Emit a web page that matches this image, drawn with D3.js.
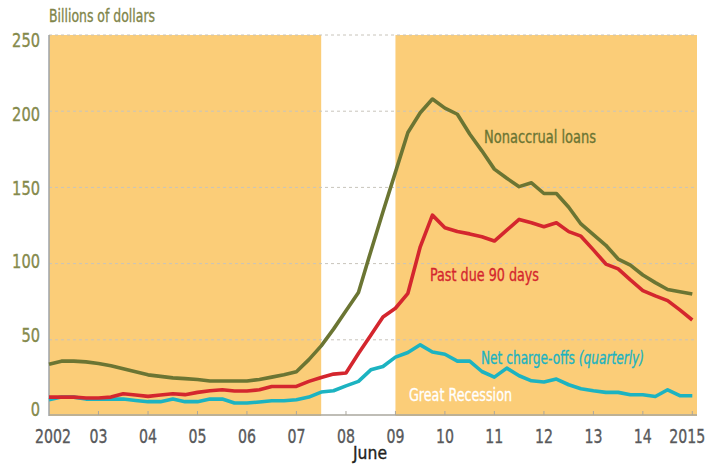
<!DOCTYPE html>
<html>
<head>
<meta charset="utf-8">
<script src="https://cdn.jsdelivr.net/npm/d3@7"></script>
<style>
	body { margin: 0; background: #fff; }
	text { font-family: "DejaVu Sans Condensed", "Liberation Sans", sans-serif; }
</style>
</head>
<body>
<script>
// quarterly series, billions of dollars, June 2002 through June 2015
var nonaccrual = [34, 36, 36, 35.5, 34.5, 33, 31, 29, 27, 26, 25, 24.5, 24, 23, 23, 23, 23, 24, 25.5, 27, 29,
	37, 46, 57, 69, 81, 108, 134, 160, 186, 199, 208, 202, 198, 185, 174, 162, 156, 150.5, 153, 146, 146,
	137, 126, 119, 112, 103, 99, 92.5, 87.5, 83, 81.5, 80];
var pastDue = [12.4, 12.4, 12.4, 11.8, 11.8, 12.4, 14.6, 13.8, 12.9, 13.8, 14.6, 14, 15.5, 16.6, 17.2, 16.4, 16.4,
	17.2, 19.4, 19.4, 19.4, 22.7, 25.3, 27.5, 28.2, 41, 53, 65, 70.7, 80.5, 111, 131.8, 123.5, 121, 119.5,
	117.6, 114.8, 122, 129, 126.8, 124.2, 126.8, 121, 118, 109, 99.7, 96.5, 89.3, 82.3, 78.8, 75.7, 69.6, 63];
var chargeOffs = [10.7, 12.4, 12.4, 11.1, 11.1, 11.1, 11.1, 10.2, 9.4, 9.4, 11.1, 9.4, 9.4, 11.1, 11.1, 8.5, 8.5,
	9.2, 10, 10, 10.7, 12.4, 15.7, 16.6, 19.8, 22.7, 30.3, 32.5, 38.6, 41.7, 46.7, 42, 40.5, 36, 36, 29.2,
	25.5, 31.4, 26.4, 23.1, 22.3, 24.2, 20.5, 17.9, 16.6, 15.5, 15.5, 13.9, 13.9, 12.8, 17.2, 13.3, 13.3];
var yearLabels = ["2002", "03", "04", "05", "06", "07", "08", "09", "10", "11", "12", "13", "14", "2015"];
var yTicks = [0, 50, 100, 150, 200, 250];
// Great Recession, December 2007 to June 2009
var recession = [new Date(2007, 11, 1), new Date(2009, 5, 1)];

window.onload = function(){
	var w = 714, h = 464;

	// one date per quarter, starting June 2002
	var quarters = nonaccrual.map(function(d, i){ return new Date(2002, 5 + 3 * i, 1); });
	// ticks sit on June of each year
	var yearTicks = yearLabels.map(function(d, i){ return new Date(2002 + i, 5, 1); });

	var x = d3.scaleTime()
		.domain([new Date(2002, 5, 1), new Date(2015, 5, 1)])
		.range([49, 692.3]);
	var y = d3.scaleLinear()
		.domain([0, 250])
		.range([416, 35]);
	// tick labels sit a little off their gridlines in the original
	var yLabel = d3.scaleLinear()
		.domain([0, 250])
		.range([409, 40]);

	var plotLeft = x.range()[0], plotRight = 697;

	var svg = d3.select("body")
		.append("svg")
		.attr("width", w)
		.attr("height", h);

	// squeeze text to the condensed look of the original, and thicken it a bit
	function condensed(sel, width){
		return sel.attr("textLength", width)
			.attr("lengthAdjust", "spacingAndGlyphs")
			.style("stroke", sel.style("fill"))
			.style("stroke-width", 0.35);
	}

	// orange background, white gap for the recession
	svg.append("rect")
		.attr("x", plotLeft)
		.attr("y", y(250))
		.attr("width", plotRight - plotLeft)
		.attr("height", y(0) - y(250))
		.style("fill", "#fbcd78");
	svg.append("rect")
		.attr("x", x(recession[0]))
		.attr("y", y(250))
		.attr("width", x(recession[1]) - x(recession[0]))
		.attr("height", y(0) - y(250))
		.style("fill", "#ffffff");

	// dashed gridlines
	svg.selectAll(".grid")
		.data(yTicks.filter(function(d){ return d > 0; }))
		.enter()
		.append("line")
		.attr("class", "grid")
		.attr("x1", plotLeft)
		.attr("x2", plotRight)
		.attr("y1", function(d){ return y(d); })
		.attr("y2", function(d){ return y(d); })
		.style("stroke", "#c8c4bb")
		.style("stroke-width", 1)
		.style("stroke-dasharray", "3,3");

	// axes
	svg.append("line")
		.attr("x1", plotLeft).attr("x2", plotLeft)
		.attr("y1", y(250)).attr("y2", y(0))
		.style("stroke", "#9ea3a8").style("stroke-width", 1.5);
	svg.append("line")
		.attr("x1", plotLeft).attr("x2", plotRight)
		.attr("y1", y(0) - 1).attr("y2", y(0) - 1)
		.style("stroke", "#aaa79e").style("stroke-width", 1.5);
	svg.selectAll(".xtick")
		.data(yearTicks.slice(1))
		.enter()
		.append("line")
		.attr("class", "xtick")
		.attr("x1", function(d){ return x(d); })
		.attr("x2", function(d){ return x(d); })
		.attr("y1", y(0) - 1)
		.attr("y2", y(0) - 5)
		.style("stroke", "#aaa79e")
		.style("stroke-width", 1);

	// y tick labels
	svg.selectAll(".ylabel")
		.data(yTicks)
		.enter()
		.append("text")
		.attr("class", "ylabel")
		.attr("x", 40)
		.attr("y", function(d){ return yLabel(d) + 7; })
		.attr("text-anchor", "end")
		.style("font-size", "20px")
		.style("fill", "#858a4c")
		.style("stroke", "#858a4c")
		.style("stroke-width", 0.35)
		.text(function(d){ return d; })
		.attr("textLength", function(d){ return String(d).length * 9.3; })
		.attr("lengthAdjust", "spacingAndGlyphs");

	// x tick labels
	svg.selectAll(".xlabel")
		.data(yearTicks)
		.enter()
		.append("text")
		.attr("class", "xlabel")
		.attr("x", function(d, i){ return x(d) + (i === 0 ? 4 : 0) - (i === yearLabels.length - 1 ? 5 : 0); })
		.attr("y", 443)
		.attr("text-anchor", "middle")
		.style("font-size", "20px")
		.style("fill", "#58595b")
		.style("stroke", "#58595b")
		.style("stroke-width", 0.35)
		.text(function(d, i){ return yearLabels[i]; })
		.attr("textLength", function(d, i){ return yearLabels[i].length * 9.0; })
		.attr("lengthAdjust", "spacingAndGlyphs");

	condensed(svg.append("text")
		.attr("x", 353)
		.attr("y", 459)
		.style("font-size", "17px")
		.style("fill", "#231f20")
		.text("June"), 34);

	condensed(svg.append("text")
		.attr("x", 49)
		.attr("y", 22)
		.style("font-size", "18.5px")
		.style("fill", "#7f854a")
		.text("Billions of dollars"), 106);

	// series lines
	var series = [
		{ values: chargeOffs, color: "#1cb3c1" },
		{ values: pastDue, color: "#d4262e" },
		{ values: nonaccrual, color: "#6b7533" }
	];
	var line = d3.line()
		.x(function(d, i){ return x(quarters[i]); })
		.y(function(d){ return y(d); });

	svg.selectAll(".series")
		.data(series)
		.enter()
		.append("path")
		.attr("class", "series")
		.attr("d", function(d){ return line(d.values); })
		.style("fill", "none")
		.style("stroke", function(d){ return d.color; })
		.style("stroke-width", 3.6)
		.style("stroke-linejoin", "round");

	// annotations
	condensed(svg.append("text")
		.attr("x", 484).attr("y", 143)
		.style("font-size", "18.5px")
		.style("fill", "#6b7533")
		.text("Nonaccrual loans"), 112);
	condensed(svg.append("text")
		.attr("x", 430).attr("y", 281)
		.style("font-size", "18.5px")
		.style("fill", "#d4262e")
		.text("Past due 90 days"), 109);

	// one text element, the italic part flows on as a tspan
	var net = svg.append("text")
		.attr("x", 481).attr("y", 364)
		.style("font-size", "18.5px")
		.style("fill", "#1cb3c1");
	net.append("tspan").text("Net charge-offs ");
	net.append("tspan").style("font-style", "italic").text("(quarterly)");
	condensed(net, 163);

	condensed(svg.append("text")
		.attr("x", 409).attr("y", 401)
		.style("font-size", "18.5px")
		.style("fill", "#ffffff")
		.text("Great Recession"), 103);
};
</script>
</body>
</html>
